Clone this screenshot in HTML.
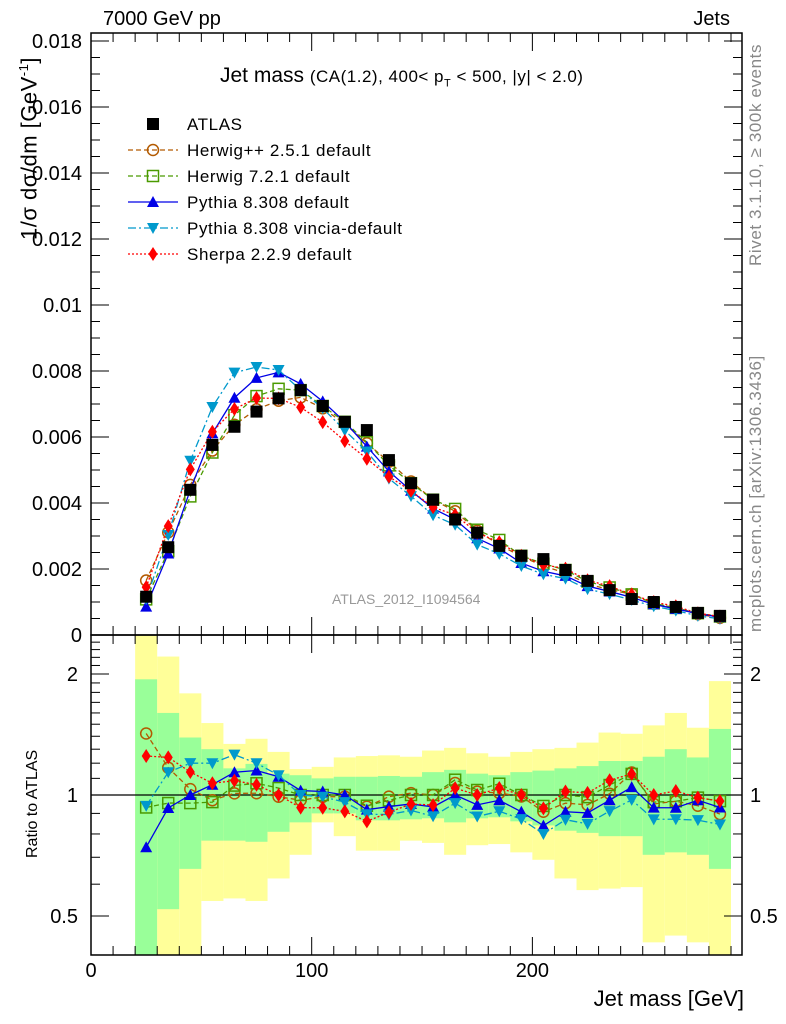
<!DOCTYPE html>
<html><head><meta charset="utf-8"><style>
body{margin:0;background:#fff;}
svg{display:block;font-family:"Liberation Sans",Arial,sans-serif;}
</style></head><body>
<svg id="c" width="786" height="1024" xmlns="http://www.w3.org/2000/svg"></svg>
<script>
const binEdges=[20,30,40,50,60,70,80,90,100,110,120,130,140,150,160,170,180,190,200,210,220,230,240,250,260,270,280,290];
const atlas=[0.00116,0.00266,0.0044,0.00576,0.00631,0.00677,0.00717,0.00742,0.00694,0.00646,0.00621,0.0053,0.0046,0.0041,0.0035,0.0031,0.0027,0.0024,0.0023,0.00197,0.00164,0.00136,0.00109,0.0010,0.00085,0.00067,0.00058];
const herwigpp=[0.00165,0.00311,0.00455,0.00559,0.00637,0.00684,0.00710,0.00720,0.00687,0.00640,0.00581,0.00525,0.00465,0.0041,0.00375,0.00316,0.00273,0.00238,0.00209,0.00188,0.00155,0.00137,0.00124,0.00095,0.00082,0.00063,0.00052];
const herwig7=[0.00108,0.00254,0.00420,0.00553,0.00666,0.00724,0.00746,0.00742,0.00694,0.00646,0.00584,0.00514,0.0046,0.0041,0.00382,0.00319,0.00288,0.0024,0.00216,0.00197,0.00162,0.00144,0.00123,0.00096,0.00082,0.00066,0.00056];
const pythia=[0.00086,0.00247,0.0044,0.00611,0.00719,0.00779,0.00796,0.00761,0.00708,0.00646,0.00571,0.00496,0.00437,0.00383,0.0035,0.00293,0.00262,0.00218,0.00193,0.00179,0.00148,0.00132,0.00114,0.00093,0.00079,0.00065,0.00054];
const vincia=[0.00109,0.00303,0.00528,0.00691,0.00795,0.00812,0.00803,0.00742,0.00687,0.0062,0.00556,0.00474,0.00421,0.00363,0.00334,0.00274,0.00246,0.00209,0.00184,0.00171,0.00139,0.00124,0.00106,0.00087,0.00074,0.00058,0.00049];
const sherpa=[0.00145,0.0033,0.00502,0.00616,0.00685,0.00718,0.00717,0.0069,0.00645,0.00588,0.00534,0.0048,0.00437,0.00387,0.00364,0.0031,0.00281,0.0024,0.00213,0.00201,0.00166,0.00148,0.00123,0.001,0.00087,0.00066,0.00056];
const greenHi=[1.94,1.60,1.39,1.30,1.165,1.195,1.13,1.12,1.10,1.11,1.11,1.115,1.11,1.14,1.155,1.13,1.12,1.14,1.15,1.165,1.18,1.215,1.215,1.245,1.30,1.24,1.46];
const greenLo=[0.3,0.52,0.655,0.77,0.77,0.765,0.81,0.855,0.9,0.9,0.865,0.865,0.87,0.875,0.855,0.875,0.88,0.86,0.84,0.815,0.805,0.79,0.79,0.71,0.72,0.71,0.655];
const yellowHi=[3,2.21,1.79,1.51,1.34,1.38,1.28,1.16,1.175,1.24,1.25,1.255,1.245,1.29,1.31,1.27,1.245,1.28,1.30,1.31,1.35,1.43,1.42,1.49,1.60,1.47,1.92];
const yellowLo=[0.3,0.3,0.3,0.545,0.553,0.545,0.62,0.71,0.855,0.79,0.727,0.727,0.77,0.76,0.71,0.75,0.755,0.72,0.69,0.62,0.58,0.585,0.59,0.43,0.447,0.43,0.3];
const mainTicks=["0","0.002","0.004","0.006","0.008","0.01","0.012","0.014","0.016","0.018"];
const xTicks=[0,100,200];
const ratioTicks=[0.5,1,2];

const NS="http://www.w3.org/2000/svg";
const svg=document.getElementById('c');
const L=91,R=742,T=33,MB=635,RB=955;
const X=v=>L+(v)*((731-L)/290);
const Y=v=>MB-v*33000;
const RY=r=>795-402*Math.log10(r);
function el(tag,at,parent){const e=document.createElementNS(NS,tag);for(const k in at)e.setAttribute(k,at[k]);(parent||svg).appendChild(e);return e;}
function txt(s,at,parent){const e=el('text',at,parent);e.textContent=s;return e;}
const clip=(v,a,b)=>Math.max(a,Math.min(b,v));

const bands=el('g',{});


for(let i=0;i<atlas.length;i++){
  const x0=X(binEdges[i]),x1=X(binEdges[i+1]);
  const y0=clip(RY(yellowHi[i]),MB,RB),y1=clip(RY(yellowLo[i]),MB,RB);
  const r=el('rect',{x:x0,y:y0,width:x1-x0,height:y1-y0,fill:'#ffff99'},bands);
  
  
  const g0=clip(RY(greenHi[i]),MB,RB),g1=clip(RY(greenLo[i]),MB,RB);
  const g=el('rect',{x:x0,y:g0,width:x1-x0,height:g1-g0,fill:'#99ff99'},bands);
  
  
}
el('line',{x1:L,x2:R,y1:RY(1),y2:RY(1),stroke:'#000','stroke-width':1.3});

el('rect',{x:L,y:T,width:R-L,height:MB-T,fill:'none',stroke:'#000','stroke-width':1.5});
el('rect',{x:L,y:MB,width:R-L,height:RB-MB,fill:'none',stroke:'#000','stroke-width':1.5});

for(let v=0;v<=290;v+=10){
  const big=v%100===0,len=big?18:9,x=X(v);
  for(const yb of [MB,RB]){el('line',{x1:x,x2:x,y1:yb,y2:yb-len,stroke:'#000'});}
  el('line',{x1:x,x2:x,y1:T,y2:T+len,stroke:'#000'});
  el('line',{x1:x,x2:x,y1:MB,y2:MB+len,stroke:'#000'});
}
xTicks.forEach(v=>{const t=txt(String(v),{x:X(v),y:977,'font-size':20,'text-anchor':'middle'});
  });
for(let k=0;k<=36;k++){const v=k*0.0005,y=Y(v);if(y<T)break;const big=k%4===0,len=big?18:9;
  el('line',{x1:L,x2:L+len,y1:y,y2:y,stroke:'#000'});el('line',{x1:R,x2:R-len,y1:y,y2:y,stroke:'#000'});}
mainTicks.forEach((s,i)=>{const t=txt(s,{x:82,y:Y(i*0.002)+7,'font-size':20,'text-anchor':'end'});
  });
[0.4,0.5,0.6,0.7,0.8,0.9,1,2].forEach(r=>{const y=RY(r),big=ratioTicks.includes(r),len=big?18:9;
  el('line',{x1:L,x2:L+len,y1:y,y2:y,stroke:'#000'});el('line',{x1:R,x2:R-len,y1:y,y2:y,stroke:'#000'});});
[1.1,1.2,1.3,1.4,1.5,1.6,1.7,1.8,1.9,2.1,2.2,2.3,2.4].forEach(r=>{const y=RY(r);
  el('line',{x1:L,x2:L+9,y1:y,y2:y,stroke:'#000'});el('line',{x1:R,x2:R-9,y1:y,y2:y,stroke:'#000'});});
ratioTicks.forEach(r=>{const s=String(r);
  const a=txt(s,{x:78,y:RY(r)+7,'font-size':20,'text-anchor':'end'});
  const b=txt(s,{x:750,y:RY(r)+7,'font-size':20});});

function marker(type,x,y,c,g){
  if(type==='sq')return el('rect',{x:x-6,y:y-6,width:12,height:12,fill:'#000'},g);
  if(type==='osq')return el('rect',{x:x-5.5,y:y-5.5,width:11,height:11,fill:'none',stroke:c,'stroke-width':1.5},g);
  if(type==='oc')return el('circle',{cx:x,cy:y,r:5.5,fill:'none',stroke:c,'stroke-width':1.5},g);
  if(type==='up')return el('polygon',{points:`${x-6},${y+5} ${x+6},${y+5} ${x},${y-6}`,fill:c},g);
  if(type==='dn')return el('polygon',{points:`${x-6},${y-5} ${x+6},${y-5} ${x},${y+6}`,fill:c},g);
  if(type==='dia')return el('polygon',{points:`${x},${y-7} ${x+4.5},${y} ${x},${y+7} ${x-4.5},${y}`,fill:c},g);
}
const series=[
 {name:'herwigpp',d:herwigpp,c:'#b35a00',m:'oc',dash:'5,3'},
 {name:'herwig7',d:herwig7,c:'#4a9a00',m:'osq',dash:'5,3'},
 {name:'pythia',d:pythia,c:'#0000e6',m:'up',dash:''},
 {name:'vincia',d:vincia,c:'#0099cc',m:'dn',dash:'8,3,2,3'},
 {name:'sherpa',d:sherpa,c:'#ff0000',m:'dia',dash:'2,2'}];
const mid=i=>(binEdges[i]+binEdges[i+1])/2;
series.forEach(s=>{
  const g=el('g',{});
  
  
  const pts=s.d.map((v,i)=>X(mid(i))+','+Y(v)).join(' ');
  el('polyline',{points:pts,fill:'none',stroke:s.c,'stroke-width':1.3,'stroke-dasharray':s.dash},g);
  s.d.forEach((v,i)=>marker(s.m,X(mid(i)),Y(v),s.c,g));
  const gr=el('g',{});
  
  
  const rp=s.d.map((v,i)=>X(mid(i))+','+RY(v/atlas[i])).join(' ');
  el('polyline',{points:rp,fill:'none',stroke:s.c,'stroke-width':1.3,'stroke-dasharray':s.dash},gr);
  s.d.forEach((v,i)=>marker(s.m,X(mid(i)),RY(v/atlas[i]),s.c,gr));
});
const ga=el('g',{});


atlas.forEach((v,i)=>marker('sq',X(mid(i)),Y(v),'#000',ga));

const legend=el('g',{});


const labels=['ATLAS','Herwig++ 2.5.1 default','Herwig 7.2.1 default','Pythia 8.308 default','Pythia 8.308 vincia-default','Sherpa 2.2.9 default'];
labels.forEach((s,i)=>{const y=124+i*26;
  const e=el('g',{},legend);
  
  
  if(i===0)marker('sq',153,y,'#000',e);else{const sr=series[i-1];
    el('line',{x1:128,x2:178,y1:y,y2:y,stroke:sr.c,'stroke-width':1.3,'stroke-dasharray':sr.dash},e);marker(sr.m,153,y,sr.c,e);}
  txt(s,{x:187,y:y+6,'font-size':17,'letter-spacing':0.6},e);});
</script>
<div style="position:absolute;left:0;top:0;width:786px;height:1024px;pointer-events:none;font-family:'Liberation Sans',Arial,sans-serif;">
<div style="position:absolute;left:103px;top:8px;font-size:20px;">7000 GeV pp</div>
<div style="position:absolute;right:56px;top:8px;font-size:20px;">Jets</div>
<div style="position:absolute;left:220px;top:64px;font-size:21px;white-space:nowrap;">Jet mass <span style="font-size:17px;letter-spacing:0.5px">(CA(1.2), 400&lt; p<sub style="font-size:11px">T</sub> &lt; 500, |y| &lt; 2.0)</span></div>
<div style="position:absolute;left:16px;top:240px;transform-origin:0 0;transform:rotate(-90deg);font-size:22px;white-space:nowrap;letter-spacing:0.5px;">1/σ dσ/dm [GeV<sup style="font-size:13px">-1</sup>]</div>
<div style="position:absolute;left:24px;top:858px;transform-origin:0 0;transform:rotate(-90deg);font-size:16px;white-space:nowrap;">Ratio to ATLAS</div>
<div style="position:absolute;right:42px;top:986px;font-size:22px;">Jet mass [GeV]</div>
<div style="position:absolute;left:332px;top:591px;font-size:14px;color:#999;">ATLAS_2012_I1094564</div>
<div style="position:absolute;left:746px;top:266px;transform-origin:0 0;transform:rotate(-90deg);font-size:17px;letter-spacing:0.6px;color:#888;white-space:nowrap;">Rivet 3.1.10, ≥ 300k events</div>
<div style="position:absolute;left:746px;top:632px;transform-origin:0 0;transform:rotate(-90deg);font-size:17px;letter-spacing:0.6px;color:#888;white-space:nowrap;">mcplots.cern.ch [arXiv:1306.3436]</div>
</div>
</body></html>
